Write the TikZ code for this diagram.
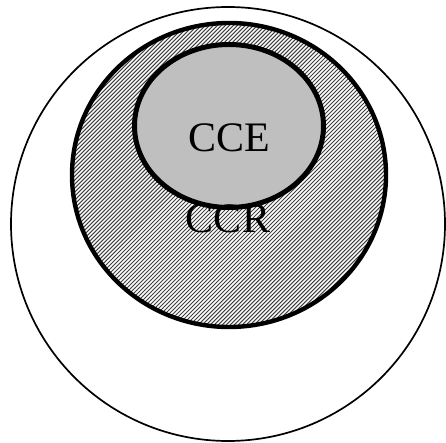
\documentclass[tikz,border=0pt]{standalone}
\usepackage{fontspec}
\setmainfont{Liberation Serif}
\usetikzlibrary{shapes.geometric,patterns.meta}

\begin{document}
\begin{tikzpicture}[
  x=1pt, y=1pt,
  zone/.style={ellipse, draw, inner sep=0pt},
  lbl/.style={anchor=base, inner sep=0pt, font=\fontsize{42}{48}\selectfont}
]
\useasboundingbox (0,0) rectangle (446,443);
% outer region
\node[zone, line width=1.7pt, minimum width=434pt, minimum height=434pt] (outer) at (228,219) {};
% CCR, hatched
\node[zone, line width=4.4pt, minimum width=314pt, minimum height=304pt,
      pattern={Lines[angle=45, distance=2.83pt, line width=1pt]},
      pattern color=black!75] (ccr) at (229,268) {};
% CCE, grey
\node[zone, line width=5pt, minimum width=189pt, minimum height=163pt,
      fill=black!25] (cce) at (229,317) {};
\node[lbl] (ccetext) at (229,291) {CCE};
\node[lbl] (ccrtext) at (228,210) {CCR};
\end{tikzpicture}
\end{document}
